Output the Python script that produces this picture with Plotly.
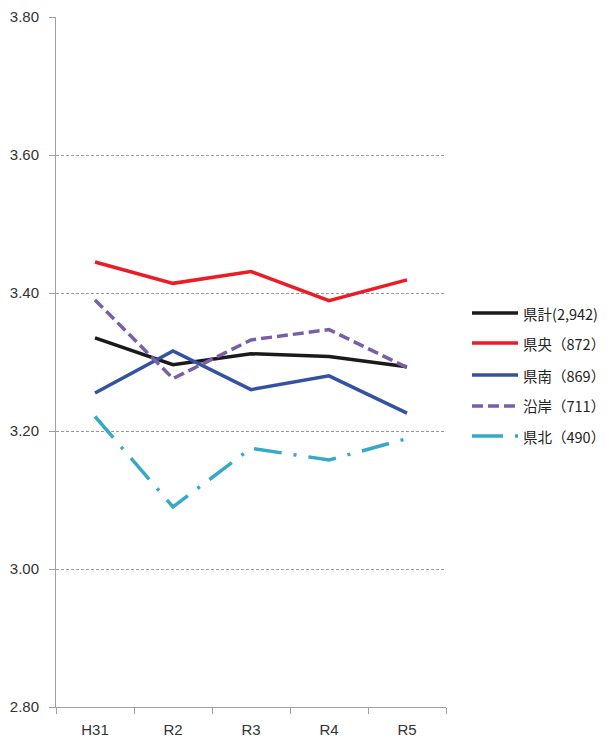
import plotly.graph_objects as go

categories = ["H31", "R2", "R3", "R4", "R5"]
series_names = ["県計(2,942)", "県央（872）", "県南（869）", "沿岸（711）", "県北（490）"]
kenkei = [3.335, 3.296, 3.312, 3.308, 3.293]
kenou = [3.445, 3.414, 3.431, 3.389, 3.419]
kennan = [3.255, 3.316, 3.260, 3.280, 3.226]
engan = [3.390, 3.276, 3.332, 3.347, 3.292]
kenhoku = [3.221, 3.090, 3.175, 3.158, 3.189]
y_ticks = [2.8, 3.0, 3.2, 3.4, 3.6, 3.8]

series = [kenkei, kenou, kennan, engan, kenhoku]
colors = ["#1a1a1a", "#ec1c26", "#3352a3", "#7b5ea8", "#36a9c9"]
dashes = ["solid", "solid", "solid", "11px,5px", "28px,12px,3px,12px"]
legend_dashes = ["solid", "solid", "solid", "11px,5px", "31px,12px,3px,12px"]

# page body has an 8px margin; work in screen pixels and subtract it
OFF = 8
W, H = 606 - OFF, 745 - OFF
L, T = 56 - OFF, 17 - OFF
plot_right, plot_bottom = 446 - OFF, 707 - OFF
R, B = W - plot_right, H - plot_bottom
pw, ph = plot_right - L, plot_bottom - T

fig = go.Figure()
for i, (name, vals) in enumerate(zip(series_names, series)):
    fig.add_trace(go.Scatter(
        x=categories, y=vals, mode="lines", name=name,
        line=dict(color=colors[i], width=3.5, dash=dashes[i]),
        showlegend=False,
    ))

# manual legend (screen pixel rows)
legend_rows_px = [313, 343, 375, 406, 436]
for i, name in enumerate(series_names):
    yp = (plot_bottom - (legend_rows_px[i] - OFF)) / ph
    fig.add_shape(type="line", xref="paper", yref="paper",
                  x0=(472 - OFF - L) / pw, x1=(518 - OFF - L) / pw, y0=yp, y1=yp,
                  line=dict(color=colors[i], width=3.5, dash=legend_dashes[i]))
    fig.add_annotation(xref="paper", yref="paper", x=(521 - OFF - L) / pw, y=yp,
                       xanchor="left", yanchor="middle", showarrow=False,
                       text=name,
                       font=dict(family="Noto Sans CJK JP, sans-serif", size=14.5, color="#222222"))

fig.update_layout(
    width=W, height=H,
    margin=dict(l=L, r=R, t=T, b=B, autoexpand=False),
    paper_bgcolor="white", plot_bgcolor="white",
    font=dict(family="Liberation Sans, Arial, sans-serif", size=15, color="#333333"),
    showlegend=False,
)
fig.update_xaxes(
    type="category", range=[-0.5, 4.5], automargin=False,
    showgrid=False, showline=True, linecolor="#a0a0a0", linewidth=1,
    ticks="outside", tickson="boundaries", ticklen=6, tickcolor="#a0a0a0",
    ticklabelstandoff=9,
    tickfont=dict(size=15, color="#333333"), zeroline=False,
)
fig.update_yaxes(
    range=[2.8, 3.8], tickvals=y_ticks, tickformat=".2f", automargin=False,
    showgrid=True, gridcolor="#9a9a9a", griddash="3px,2px", gridwidth=1,
    showline=True, linecolor="#a0a0a0", linewidth=1,
    ticks="outside", ticklen=6, tickcolor="#a0a0a0",
    ticklabelstandoff=7,
    tickfont=dict(size=15, color="#333333"), zeroline=False,
)

fig.write_html("out.html")
